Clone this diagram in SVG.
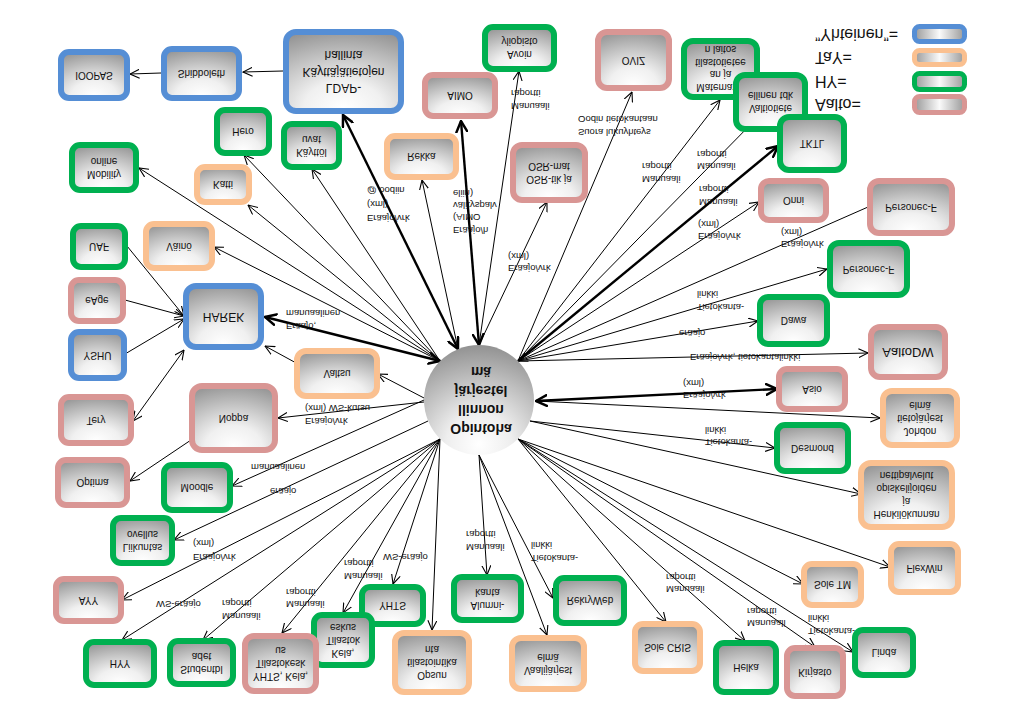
<svg xmlns="http://www.w3.org/2000/svg" width="1009" height="723" viewBox="0 0 1009 723">
<style>
.box{stroke-width:6;fill:url(#g)}
.b{stroke:#558ED5}.o{stroke:#FAC090}.gr{stroke:#00B050}.p{stroke:#D99694}
.t{font-family:"Liberation Sans",Arial,sans-serif;font-size:10px;fill:#111;text-anchor:middle}
.e{font-family:"Liberation Sans",Arial,sans-serif;font-size:9.5px;fill:#111}
.lg{font-family:"Liberation Sans",Arial,sans-serif;font-size:16px;fill:#111}
.c line{stroke:#000;stroke-width:1;marker-end:url(#a)}
.c line.k{stroke-width:2.4;marker-end:url(#ak)}
.c line.d{marker-start:url(#a)}
.c line.k.d{marker-start:url(#ak)}
.lb{stroke-width:5;fill:url(#lgg)}
</style>
<defs>
<radialGradient id="g" cx="0.5" cy="1" r="1.15" fx="0.5" fy="0.95">
<stop offset="0" stop-color="#ffffff"/><stop offset="0.3" stop-color="#f0f0f0"/><stop offset="1" stop-color="#868686"/>
</radialGradient>
<radialGradient id="gc" cx="0.5" cy="0.95" r="1" fx="0.5" fy="0.9">
<stop offset="0" stop-color="#ffffff"/><stop offset="0.3" stop-color="#eeeeee"/><stop offset="1" stop-color="#8a8a8a"/>
</radialGradient>
<linearGradient id="lgg" x1="0" y1="0" x2="1" y2="0">
<stop offset="0" stop-color="#999"/><stop offset="0.5" stop-color="#fafafa"/><stop offset="1" stop-color="#999"/>
</linearGradient>
<marker id="a" viewBox="0 0 10 10" refX="9.5" refY="5" markerWidth="10" markerHeight="10" markerUnits="userSpaceOnUse" orient="auto-start-reverse"><path d="M0,0.5 L9.5,5 L0,9.5" fill="none" stroke="#000" stroke-width="1.1"/></marker>
<marker id="ak" viewBox="0 0 10 10" refX="9" refY="5" markerWidth="13" markerHeight="13" markerUnits="userSpaceOnUse" orient="auto-start-reverse"><path d="M0,0.5 L9,5 L0,9.5" fill="none" stroke="#000" stroke-width="1.9"/></marker>
</defs>
<rect width="1009" height="723" fill="#fff"/>
<g id="connectors" class="c">
<line class="k d" x1="458" y1="349" x2="343" y2="115"/>
<line x1="458" y1="349" x2="422" y2="180"/>
<line x1="440" y1="361" x2="312" y2="169"/>
<line x1="440" y1="361" x2="244" y2="155"/>
<line x1="440" y1="361" x2="248" y2="205"/>
<line x1="440" y1="361" x2="139" y2="168"/>
<line x1="440" y1="361" x2="214" y2="247"/>
<line class="k d" x1="440" y1="361" x2="265" y2="317"/>
<line class="k d" x1="479" y1="345" x2="461" y2="121"/>
<line x1="479" y1="345" x2="519" y2="71"/>
<line x1="479" y1="345" x2="547" y2="202"/>
<line x1="518" y1="361" x2="632" y2="92"/>
<line x1="518" y1="361" x2="720" y2="100"/>
<line x1="518" y1="361" x2="757" y2="118"/>
<line class="k" x1="518" y1="361" x2="778" y2="146"/>
<line x1="518" y1="361" x2="759" y2="202"/>
<line x1="868" y1="207" x2="518" y2="361"/>
<line x1="518" y1="361" x2="827" y2="269"/>
<line x1="518" y1="361" x2="758" y2="321"/>
<line x1="518" y1="361" x2="868" y2="353"/>
<line class="k d" x1="536" y1="401" x2="777" y2="389"/>
<line x1="536" y1="401" x2="880" y2="418"/>
<line x1="530" y1="421" x2="775" y2="448"/>
<line x1="530" y1="421" x2="861" y2="494"/>
<line x1="518" y1="439" x2="890" y2="567"/>
<line x1="518" y1="439" x2="803" y2="584"/>
<line x1="518" y1="439" x2="853" y2="652"/>
<line x1="518" y1="439" x2="815" y2="647"/>
<line x1="518" y1="439" x2="745" y2="641"/>
<line x1="518" y1="439" x2="666" y2="622"/>
<line x1="479" y1="455" x2="553" y2="598"/>
<line x1="479" y1="455" x2="547" y2="635"/>
<line x1="479" y1="455" x2="487" y2="575"/>
<line x1="440" y1="439" x2="432" y2="630"/>
<line x1="440" y1="439" x2="393" y2="584"/>
<line x1="440" y1="439" x2="343" y2="613"/>
<line x1="440" y1="439" x2="282" y2="633"/>
<line x1="440" y1="439" x2="203" y2="640"/>
<line x1="440" y1="439" x2="122" y2="640"/>
<line x1="440" y1="439" x2="122" y2="600"/>
<line x1="428" y1="421" x2="174" y2="540"/>
<line x1="424" y1="400" x2="232" y2="486"/>
<line x1="424" y1="402" x2="278" y2="418"/>
<line x1="424" y1="398" x2="378" y2="374"/>
<line x1="298" y1="364" x2="265" y2="346"/>
<line x1="127" y1="246" x2="184" y2="316"/>
<line x1="125" y1="300" x2="184" y2="316"/>
<line x1="125" y1="354" x2="184" y2="319"/>
<line class="d" x1="133" y1="421" x2="184" y2="350"/>
<line x1="191" y1="440" x2="130" y2="481"/>
<line x1="161" y1="73" x2="130" y2="74"/>
<line x1="283" y1="71" x2="243" y2="72"/>
</g>
<g id="edge-labels">
<text class="e" transform="matrix(1 0 0 -1 0 408)" x="367" y="193.3">Eräajo/vrk<tspan x="367" dy="14">(xml)</tspan><tspan x="367" dy="14">@ oodiin</tspan></text>
<text class="e" transform="matrix(1 0 0 -1 0 423)" x="453" y="196.4">Eräajo/h<tspan x="453" dy="12.3">(AIMO</tspan><tspan x="453" dy="12.3">välityspalv</tspan><tspan x="453" dy="12.3">eliin)</tspan></text>
<text class="e" transform="matrix(1 0 0 -1 0 199)" x="511" y="96.5">Manuaali<tspan x="511" dy="13">raportti</tspan></text>
<text class="e" transform="matrix(1 0 0 -1 0 524)" x="508" y="259">Eräajo/vrk<tspan x="508" dy="12.5">(xml)</tspan></text>
<text class="e" transform="matrix(1 0 0 -1 0 251)" x="578" y="122.5">Suora lukuyhteys<tspan x="578" dy="13">Oodin tietokantaan</tspan></text>
<text class="e" transform="matrix(1 0 0 -1 0 345)" x="642" y="169.5">Manuaali<tspan x="642" dy="13">raportti</tspan></text>
<text class="e" transform="matrix(1 0 0 -1 0 320)" x="697" y="157">Manuaali<tspan x="697" dy="12.5">raportti</tspan></text>
<text class="e" transform="matrix(1 0 0 -1 0 392)" x="699" y="193">Manuaali<tspan x="699" dy="13.5">raportti</tspan></text>
<text class="e" transform="matrix(1 0 0 -1 0 460)" x="698" y="227">Eräajo/vrk<tspan x="698" dy="12.5">(xml)</tspan></text>
<text class="e" transform="matrix(1 0 0 -1 0 476)" x="781" y="235">Eräajo/vrk<tspan x="781" dy="12.5">(xml)</tspan></text>
<text class="e" transform="matrix(1 0 0 -1 0 601)" x="697" y="297.5">Tietokanta-<tspan x="697" dy="13">linkki</tspan></text>
<text class="e" transform="matrix(1 0 0 -1 0 666)" x="679" y="336.3">eräajo</text>
<text class="e" transform="matrix(1 0 0 -1 0 714)" x="690" y="360.3">Eräajo/vrk, tietokantalinkki</text>
<text class="e" transform="matrix(1 0 0 -1 0 777)" x="683" y="385.5">Eräajo/vrk<tspan x="683" dy="12">(xml)</tspan></text>
<text class="e" transform="matrix(1 0 0 -1 0 872)" x="705" y="433">Tietokanta-<tspan x="705" dy="12.5">linkki</tspan></text>
<text class="e" transform="matrix(1 0 0 -1 0 1166)" x="666" y="580">Manuaali<tspan x="666" dy="12.5">raportti</tspan></text>
<text class="e" transform="matrix(1 0 0 -1 0 1234)" x="747" y="614">Manuaali<tspan x="747" dy="12.5">raportti</tspan></text>
<text class="e" transform="matrix(1 0 0 -1 0 1249)" x="808" y="621.5">Tietokanta-<tspan x="808" dy="13">linkki</tspan></text>
<text class="e" transform="matrix(1 0 0 -1 0 1103)" x="531" y="548.5">Tietokanta-<tspan x="531" dy="13">linkki</tspan></text>
<text class="e" transform="matrix(1 0 0 -1 0 1081)" x="466" y="537.5">Manuaali<tspan x="466" dy="13">raportti</tspan></text>
<text class="e" transform="matrix(1 0 0 -1 0 1114)" x="383" y="560.3">WS-eräajo</text>
<text class="e" transform="matrix(1 0 0 -1 0 1139)" x="344" y="566.5">Manuaali<tspan x="344" dy="13">raportti</tspan></text>
<text class="e" transform="matrix(1 0 0 -1 0 1196)" x="286" y="595">Manuaali<tspan x="286" dy="12.5">raportti</tspan></text>
<text class="e" transform="matrix(1 0 0 -1 0 1219)" x="222" y="606.5">Manuaali<tspan x="222" dy="13">raportti</tspan></text>
<text class="e" transform="matrix(1 0 0 -1 0 1208)" x="156" y="607.3">WS-eräajo</text>
<text class="e" transform="matrix(1 0 0 -1 0 1100)" x="193" y="546.3">Eräajo/vrk<tspan x="193" dy="14">(xml)</tspan></text>
<text class="e" transform="matrix(1 0 0 -1 0 934)" x="251" y="470.3">manuaalinen</text>
<text class="e" transform="matrix(1 0 0 -1 0 982)" x="270" y="494.3">eräajo</text>
<text class="e" transform="matrix(1 0 0 -1 0 829)" x="305" y="411.5">Eräajo/vrk<tspan x="305" dy="13">(xml) WS-kutsu</tspan></text>
<text class="e" transform="matrix(1 0 0 -1 0 639)" x="286" y="316.5">Eräajo,<tspan x="286" dy="13">manuaalinen</tspan></text>
</g>
<g id="hub"><circle cx="479" cy="400" r="55" fill="url(#gc)"/>
<text class="t" style="font-size:14px;font-weight:bold" transform="matrix(1 0 0 -1 0 800)" x="481" y="376.5">Opintoha<tspan x="481" dy="19">llinnon</tspan><tspan x="481" dy="19">järjestel</tspan><tspan x="481" dy="19">mä</tspan></text></g>
<g id="n-ioopas"><rect class="box b" x="61" y="52" width="66" height="46" rx="8"/><text class="t" transform="matrix(1 0 0 -1 0 150)" x="94" y="78.5">IOOPAS</text></g>
<g id="n-shibboleth"><rect class="box b" x="164" y="49" width="75" height="49" rx="8"/><text class="t" transform="matrix(1 0 0 -1 0 147)" x="201.5" y="77">Shibboleth</text></g>
<g id="n-ldap"><rect class="box b" x="286" y="32" width="115" height="79" rx="10"/><text class="t" style="font-size:12px" transform="matrix(1 0 0 -1 0 143)" x="343.5" y="59">LDAP-<tspan x="343.5" dy="16.5">Käyttäjätietojen</tspan><tspan x="343.5" dy="16.5">hallinta</tspan></text></g>
<g id="n-hero"><rect class="box gr" x="217" y="110" width="52" height="43" rx="8"/><text class="t" transform="matrix(1 0 0 -1 0 263)" x="243" y="135">Hero</text></g>
<g id="n-kayttoluvat"><rect class="box gr" x="284" y="124" width="55" height="43" rx="8"/><text class="t" transform="matrix(1 0 0 -1 0 291)" x="311.5" y="142.5">Käyttöl<tspan x="311.5" dy="13">uvat</tspan></text></g>
<g id="n-mobility"><rect class="box gr" x="72" y="145" width="64" height="45" rx="8"/><text class="t" transform="matrix(1 0 0 -1 0 335)" x="104" y="164.5">Mobility<tspan x="104" dy="13">online</tspan></text></g>
<g id="n-katti"><rect class="box o" x="197" y="167" width="52" height="35" rx="8"/><text class="t" transform="matrix(1 0 0 -1 0 369)" x="223" y="188">Katti</text></g>
<g id="n-rekka"><rect class="box o" x="387" y="136" width="69" height="41" rx="8"/><text class="t" transform="matrix(1 0 0 -1 0 313)" x="421.5" y="160">Rekka</text></g>
<g id="n-aimo"><rect class="box p" x="425" y="75" width="70" height="41" rx="8"/><text class="t" transform="matrix(1 0 0 -1 0 191)" x="460" y="99">AIMO</text></g>
<g id="n-avoin"><rect class="box gr" x="485" y="27" width="69" height="42" rx="8"/><text class="t" transform="matrix(1 0 0 -1 0 96)" x="519.5" y="45">Avoin<tspan x="519.5" dy="13">yliopisto</tspan></text></g>
<g id="n-osr"><rect class="box p" x="513" y="145" width="72" height="55" rx="9"/><text class="t" transform="matrix(1 0 0 -1 0 345)" x="549" y="169.5">OSR-tik ja<tspan x="549" dy="12.5">OSR-mat</tspan></text></g>
<g id="n-oviz"><rect class="box p" x="598" y="32" width="71" height="56" rx="9"/><text class="t" transform="matrix(1 0 0 -1 0 120)" x="633.5" y="63.5">OVIZ</text></g>
<g id="n-matem"><rect class="box gr" x="684" y="41" width="73" height="56" rx="9"/><text class="t" transform="matrix(1 0 0 -1 0 137)" x="720.5" y="53">Matematiik<tspan x="720.5" dy="12.7">an ja</tspan><tspan x="720.5" dy="12.7">tilastotietee</tspan><tspan x="720.5" dy="12.7">n laitos</tspan></text></g>
<g id="n-valtio"><rect class="box gr" x="736" y="75" width="69" height="54" rx="9"/><text class="t" transform="matrix(1 0 0 -1 0 204)" x="770.5" y="99">Valtiotiete<tspan x="770.5" dy="13">ellinen tdk</tspan></text></g>
<g id="n-tktl"><rect class="box gr" x="780" y="117" width="64" height="53" rx="9"/><text class="t" transform="matrix(1 0 0 -1 0 287)" x="812" y="147">TKTL</text></g>
<g id="n-onni"><rect class="box p" x="761" y="181" width="65" height="39" rx="8"/><text class="t" transform="matrix(1 0 0 -1 0 401)" x="793.5" y="204">Onni</text></g>
<g id="n-personec-aalto"><rect class="box p" x="870" y="181" width="82" height="52" rx="9"/><text class="t" transform="matrix(1 0 0 -1 0 414)" x="911" y="210.5">Personec-F</text></g>
<g id="n-personec-hy"><rect class="box gr" x="830" y="243" width="77" height="52" rx="9"/><text class="t" transform="matrix(1 0 0 -1 0 538)" x="868.5" y="272.5">Personec-F</text></g>
<g id="n-dawa"><rect class="box gr" x="760" y="297" width="67" height="47" rx="8"/><text class="t" transform="matrix(1 0 0 -1 0 641)" x="793.5" y="324">Dawa</text></g>
<g id="n-aaltodw"><rect class="box p" x="871" y="327" width="74" height="50" rx="9"/><text class="t" style="font-size:13px" transform="matrix(1 0 0 -1 0 704)" x="908" y="356.5">AaltoDW</text></g>
<g id="n-asio"><rect class="box p" x="779" y="369" width="66" height="40" rx="8"/><text class="t" transform="matrix(1 0 0 -1 0 778)" x="812" y="392.5">Asio</text></g>
<g id="n-johdon"><rect class="box o" x="883" y="391" width="74" height="54" rx="9"/><text class="t" transform="matrix(1 0 0 -1 0 836)" x="920" y="408.5">Johdon<tspan x="920" dy="13">tietojärjest</tspan><tspan x="920" dy="13">elmä</tspan></text></g>
<g id="n-desmond"><rect class="box gr" x="777" y="425" width="71" height="46" rx="8"/><text class="t" transform="matrix(1 0 0 -1 0 896)" x="812.5" y="451.5">Desmond</text></g>
<g id="n-henkilokunnan"><rect class="box o" x="861" y="463" width="91" height="64" rx="10"/><text class="t" transform="matrix(1 0 0 -1 0 990)" x="906.5" y="479.5">Henkilökunnan<tspan x="906.5" dy="12.7">ja</tspan><tspan x="906.5" dy="12.7">opiskelijoiden</tspan><tspan x="906.5" dy="12.7">nettipalvelut</tspan></text></g>
<g id="n-flexwin"><rect class="box o" x="891" y="544" width="67" height="48" rx="8"/><text class="t" transform="matrix(1 0 0 -1 0 1136)" x="924.5" y="571.5">FlexWin</text></g>
<g id="n-soletm"><rect class="box o" x="804" y="564" width="57" height="41" rx="8"/><text class="t" transform="matrix(1 0 0 -1 0 1169)" x="832.5" y="588">Sole TM</text></g>
<g id="n-linda"><rect class="box gr" x="855" y="630" width="58" height="45" rx="8"/><text class="t" transform="matrix(1 0 0 -1 0 1305)" x="884" y="656">Linda</text></g>
<g id="n-kirjasto"><rect class="box p" x="787" y="648" width="56" height="48" rx="8"/><text class="t" transform="matrix(1 0 0 -1 0 1344)" x="815" y="675.5">Kirjasto</text></g>
<g id="n-helka"><rect class="box gr" x="716" y="643" width="60" height="49" rx="8"/><text class="t" transform="matrix(1 0 0 -1 0 1335)" x="746" y="671">Helka</text></g>
<g id="n-solecris"><rect class="box o" x="635" y="624" width="65" height="47" rx="8"/><text class="t" transform="matrix(1 0 0 -1 0 1295)" x="667.5" y="651">Sole CRIS</text></g>
<g id="n-rekryweb"><rect class="box gr" x="556" y="578" width="68" height="45" rx="8"/><text class="t" transform="matrix(1 0 0 -1 0 1201)" x="590" y="604">RekryWeb</text></g>
<g id="n-vaali"><rect class="box o" x="512" y="638" width="72" height="51" rx="9"/><text class="t" transform="matrix(1 0 0 -1 0 1327)" x="548" y="660.5">Vaalijärjest<tspan x="548" dy="13">elmä</tspan></text></g>
<g id="n-alumni"><rect class="box gr" x="454" y="577" width="67" height="43" rx="8"/><text class="t" transform="matrix(1 0 0 -1 0 1197)" x="487.5" y="595.5">Alumni-<tspan x="487.5" dy="13">kanta</tspan></text></g>
<g id="n-opsun"><rect class="box o" x="395" y="633" width="74" height="59" rx="9"/><text class="t" transform="matrix(1 0 0 -1 0 1325)" x="432" y="653">Opsun<tspan x="432" dy="13">tilastointika</tspan><tspan x="432" dy="13">nta</tspan></text></g>
<g id="n-yhts"><rect class="box gr" x="362" y="587" width="61" height="37" rx="8"/><text class="t" transform="matrix(1 0 0 -1 0 1211)" x="392.5" y="609">YHTS</text></g>
<g id="n-kela"><rect class="box gr" x="314" y="615" width="58" height="50" rx="8"/><text class="t" transform="matrix(1 0 0 -1 0 1280)" x="343" y="630.5">Kela,<tspan x="343" dy="13">Tilastok</tspan><tspan x="343" dy="13">eskus</tspan></text></g>
<g id="n-yhts-kela"><rect class="box p" x="245" y="636" width="71" height="55" rx="9"/><text class="t" transform="matrix(1 0 0 -1 0 1327)" x="280.5" y="654">YHTS, Kela,<tspan x="280.5" dy="13">Tilastokesk</tspan><tspan x="280.5" dy="13">us</tspan></text></g>
<g id="n-studentbladet"><rect class="box gr" x="170" y="641" width="63" height="43" rx="8"/><text class="t" transform="matrix(1 0 0 -1 0 1325)" x="201.5" y="659.5">Studentbl<tspan x="201.5" dy="13">adet</tspan></text></g>
<g id="n-hyy"><rect class="box gr" x="86" y="642" width="68" height="43" rx="8"/><text class="t" transform="matrix(1 0 0 -1 0 1327)" x="120" y="667">HYY</text></g>
<g id="n-ayy"><rect class="box p" x="56" y="579" width="65" height="42" rx="8"/><text class="t" transform="matrix(1 0 0 -1 0 1200)" x="88.5" y="603.5">AYY</text></g>
<g id="n-liikunta"><rect class="box gr" x="113" y="518" width="59" height="45" rx="8"/><text class="t" transform="matrix(1 0 0 -1 0 1081)" x="142.5" y="537.5">Liikuntas<tspan x="142.5" dy="13">ovellus</tspan></text></g>
<g id="n-moodle"><rect class="box gr" x="164" y="465" width="66" height="45" rx="8"/><text class="t" transform="matrix(1 0 0 -1 0 975)" x="197" y="491">Moodle</text></g>
<g id="n-optima"><rect class="box p" x="58" y="460" width="69" height="45" rx="8"/><text class="t" transform="matrix(1 0 0 -1 0 965)" x="92.5" y="486">Optima</text></g>
<g id="n-noppa"><rect class="box p" x="192" y="386" width="83" height="64" rx="10"/><text class="t" transform="matrix(1 0 0 -1 0 836)" x="233.5" y="421.5">Noppa</text></g>
<g id="n-tery"><rect class="box p" x="61" y="397" width="70" height="46" rx="8"/><text class="t" transform="matrix(1 0 0 -1 0 840)" x="96" y="423.5">Tery</text></g>
<g id="n-yshu"><rect class="box b" x="71" y="332" width="53" height="46" rx="8"/><text class="t" transform="matrix(1 0 0 -1 0 710)" x="97.5" y="358.5">YSHU</text></g>
<g id="n-eage"><rect class="box p" x="71" y="280" width="52" height="41" rx="8"/><text class="t" transform="matrix(1 0 0 -1 0 601)" x="97" y="304">eAge</text></g>
<g id="n-uaf"><rect class="box gr" x="73" y="226" width="52" height="41" rx="8"/><text class="t" transform="matrix(1 0 0 -1 0 493)" x="99" y="250">UAF</text></g>
<g id="n-vaino"><rect class="box o" x="146" y="224" width="66" height="44" rx="8"/><text class="t" transform="matrix(1 0 0 -1 0 492)" x="179" y="249.5">Väinö</text></g>
<g id="n-harek"><rect class="box b" x="186" y="286" width="75" height="61" rx="10"/><text class="t" style="font-size:12px" transform="matrix(1 0 0 -1 0 633)" x="223.5" y="320.5">HAREK</text></g>
<g id="n-valtsu"><rect class="box o" x="297" y="351" width="80" height="45" rx="9"/><text class="t" transform="matrix(1 0 0 -1 0 747)" x="337" y="377">Valtsu</text></g>
<g id="legend">
<rect class="lb b" x="914.5" y="26.5" width="50" height="15" rx="5"/>
<rect class="lb o" x="914.5" y="50.5" width="50" height="14" rx="5"/>
<rect class="lb gr" x="914.5" y="73.5" width="50" height="16" rx="5"/>
<rect class="lb p" x="914.5" y="96.5" width="50" height="16" rx="5"/>
<text class="lg" transform="matrix(1 0 0 -1 0 68)" x="815" y="39.5">”Yhteinen”=</text>
<text class="lg" transform="matrix(1 0 0 -1 0 115)" x="815" y="63">TaY=</text>
<text class="lg" transform="matrix(1 0 0 -1 0 163)" x="815" y="87">HY=</text>
<text class="lg" transform="matrix(1 0 0 -1 0 209)" x="815" y="110">Aalto=</text>
</g>
</svg>
